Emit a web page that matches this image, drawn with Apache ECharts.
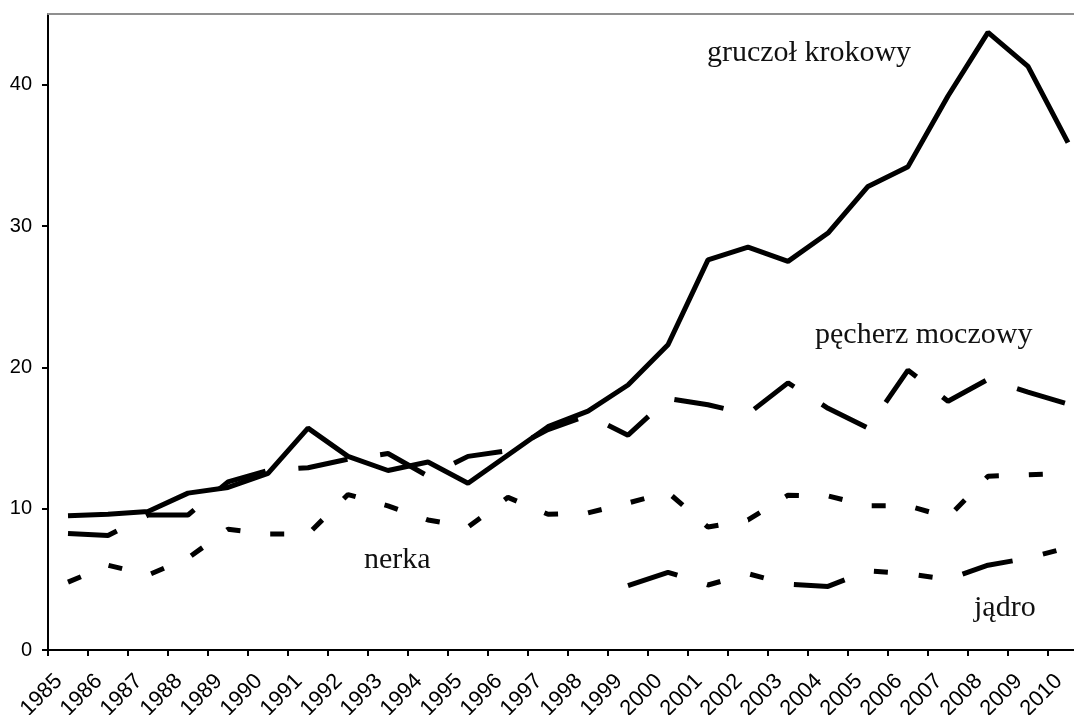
<!DOCTYPE html>
<html>
<head>
<meta charset="utf-8">
<script src="https://cdn.jsdelivr.net/npm/echarts@6/dist/echarts.min.js"></script>
<style>
  html, body { margin: 0; padding: 0; background: #fff; }
  #chart { width: 1074px; height: 715px; }
</style>
</head>
<body>
<div id="chart"></div>
<script>
// years on the x axis
const years = ["1985", "1986", "1987", "1988", "1989", "1990", "1991", "1992", "1993",
  "1994", "1995", "1996", "1997", "1998", "1999", "2000", "2001", "2002", "2003",
  "2004", "2005", "2006", "2007", "2008", "2009", "2010"];

// values
const gruczol = [9.5, 9.6, 9.8, 11.1, 11.5, 12.5, 15.7, 13.7, 12.7, 13.3, 11.8, 13.8, 15.8,
  16.9, 18.75, 21.6, 27.6, 28.5, 27.5, 29.5, 32.8, 34.2, 39.2, 43.7, 41.3, 35.9];
const pecherz = [8.25, 8.1, 9.55, 9.55, 11.9, 12.7, 12.9, 13.5, 13.9, 12.3, 13.7, 14.1, 15.6,
  16.6, 15.2, 17.8, 17.35, 16.7, 18.9, 17.1, 15.7, 19.8, 17.6, 19.15, 18.25, 17.4];
const nerka = [4.8, 6.0, 5.3, 6.5, 8.55, 8.2, 8.2, 11.0, 10.2, 9.2, 8.7, 10.8, 9.6, 9.7,
  10.4, 11.15, 8.7, 9.2, 10.95, 10.9, 10.2, 10.2, 9.4, 12.3, 12.4, 12.5];
const jadro = [null, null, null, null, null, null, null, null, null, null, null, null, null,
  null, 4.55, 5.5, 4.6, 5.4, 4.65, 4.5, 5.6, 5.4, 5.0, 6.0, 6.5, 7.25];

const yTicks = [0, 10, 20, 30, 40];

const chart = echarts.init(document.getElementById("chart"));

function lineSeries(name, data, dash) {
  return {
    name: name,
    type: "line",
    data: data,
    symbol: "none",
    showSymbol: false,
    connectNulls: false,
    animation: false,
    lineStyle: { color: "#000", width: 5, type: dash, cap: "butt" }
  };
}

const labelFont = '30px "Liberation Serif", serif';
function note(text, x, y) {
  return {
    type: "text",
    style: {
      x: x, y: y, text: text, font: labelFont, fill: "#111",
      align: "left", verticalAlign: "middle"
    }
  };
}

chart.setOption({
  backgroundColor: "#fff",
  animation: false,
  // keep the plot where it is even though the year labels run off the bottom
  grid: { left: 48, top: 14, width: 1040, height: 636, outerBoundsMode: "none", containLabel: false },
  xAxis: [
    {
      type: "category",
      data: years,
      boundaryGap: true,
      axisLine: { lineStyle: { color: "#000", width: 2 } },
      axisTick: { show: true, length: 6, lineStyle: { color: "#000", width: 2 } },
      axisLabel: {
        interval: 0,
        rotate: 45,
        margin: 37,
        verticalAlign: "bottom",
        lineHeight: 26,
        color: "#000",
        fontFamily: "Liberation Sans",
        fontSize: 22
      },
      splitLine: { show: false }
    },
    {
      // grey frame line along the top
      type: "category",
      data: years,
      position: "top",
      axisLine: { lineStyle: { color: "#8f8f8f", width: 2 } },
      axisTick: { show: false },
      axisLabel: { show: false },
      splitLine: { show: false }
    }
  ],
  yAxis: {
    type: "value",
    min: 0,
    max: 45,
    interval: 10,
    axisLine: { show: true, lineStyle: { color: "#000", width: 2 } },
    axisTick: { show: true, length: 6, customValues: yTicks, lineStyle: { color: "#000", width: 2 } },
    axisLabel: {
      margin: 16,
      customValues: yTicks,
      formatter: v => (v === 45 ? "" : v),
      color: "#000",
      fontFamily: "Liberation Sans",
      fontSize: 20
    },
    splitLine: { show: false }
  },
  series: [
    lineSeries("gruczoł krokowy", gruczol, "solid"),
    lineSeries("pęcherz moczowy", pecherz, [50, 33]),
    lineSeries("nerka", nerka, [14, 30]),
    lineSeries("jądro", jadro, [52, 31, 14, 31, 14, 31])
  ],
  graphic: [
    note("gruczoł krokowy", 707, 53),
    note("pęcherz moczowy", 815, 335),
    note("nerka", 364, 560),
    note("jądro", 974, 608)
  ]
});
</script>
</body>
</html>
